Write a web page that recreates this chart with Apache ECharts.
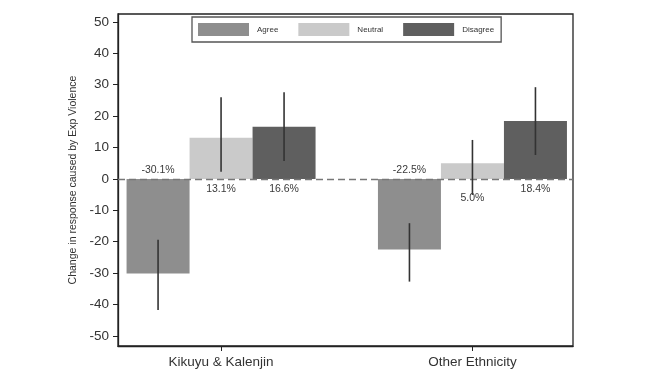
<!DOCTYPE html>
<html>
<head>
<meta charset="utf-8">
<script src="https://cdn.jsdelivr.net/npm/echarts@6/dist/echarts.min.js"></script>
<style>
html,body{margin:0;padding:0;background:#fff;}
#chart{width:645px;height:385px;}
</style>
</head>
<body>
<div id="chart"></div>
<script>
// ---- data ----
const categories = ['Kikuyu & Kalenjin', 'Other Ethnicity'];
const seriesNames = ['Agree', 'Neutral', 'Disagree'];
const agreeValues = [-30.1, -22.5];
const neutralValues = [13.1, 5.0];
const disagreeValues = [16.6, 18.4];
const agreeCI = [[-41.7, -19.4], [-32.7, -14.1]];
const neutralCI = [[2.3, 26.0], [-5.1, 12.4]];
const disagreeCI = [[5.7, 27.6], [7.6, 29.2]];
const yTickValues = [-50, -40, -30, -20, -10, 0, 10, 20, 30, 40, 50];
const categoryPositions = [0, 1];

// ---- styling ----
const colors = ['#8e8e8e', '#cacaca', '#5f5f5f'];
const BAR_W = 63;
const FONT = 'Liberation Sans, Arial, Helvetica, sans-serif';

const valuesList = [agreeValues, neutralValues, disagreeValues];
const ciList = [agreeCI, neutralCI, disagreeCI];

const chart = echarts.init(document.getElementById('chart'), null, {renderer: 'canvas'});

const barSeries = seriesNames.map((name, j) => ({
  name: name,
  type: 'bar',
  barWidth: BAR_W,
  barGap: '0%',
  itemStyle: {color: colors[j]},
  data: categoryPositions.map((x, i) => [x, valuesList[j][i]]),
  z: 2
}));

// error bars + value labels
const errData = [];
seriesNames.forEach((name, j) => {
  categoryPositions.forEach((x, i) => {
    errData.push([x, ciList[j][i][0], ciList[j][i][1], j, valuesList[j][i]]);
  });
});

const errSeries = {
  type: 'custom',
  name: 'err',
  clip: false,
  z: 5,
  data: errData,
  encode: {x: 0, y: [1, 2]},
  renderItem: function (params, api) {
    const x = api.value(0), lo = api.value(1), hi = api.value(2);
    const j = api.value(3), v = api.value(4);
    const dx = (j - 1) * BAR_W;
    const pLo = api.coord([x, lo]);
    const pHi = api.coord([x, hi]);
    const zeroY = api.coord([x, 0])[1];
    const cx = pLo[0] + dx;
    let ty;
    if (v >= 0) {
      ty = Math.max(zeroY + 10, pLo[1] + 3);
    } else {
      ty = Math.min(zeroY - 9, pHi[1] - 3);
    }
    return {
      type: 'group',
      children: [
        {
          type: 'line',
          shape: {x1: cx, y1: pLo[1], x2: cx, y2: pHi[1]},
          style: {stroke: '#333', lineWidth: 1.6}
        },
        {
          type: 'text',
          style: {
            text: v.toFixed(1) + '%',
            x: cx, y: ty,
            textAlign: 'center',
            textVerticalAlign: 'middle',
            font: '10.5px ' + FONT,
            fill: '#3a3a3a'
          }
        }
      ]
    };
  }
};

const zeroLineSeries = {
  type: 'line',
  name: 'zero',
  data: [],
  silent: true,
  markLine: {
    silent: true,
    symbol: 'none',
    label: {show: false},
    lineStyle: {color: '#777', type: [7, 4], width: 1.3},
    data: [{yAxis: 0}]
  },
  z: 4
};

chart.setOption({
  animation: false,
  backgroundColor: '#fff',
  grid: {
    left: 118, right: 72, top: 14, bottom: 39,
    show: true, borderColor: '#222', borderWidth: 1.3,
    containLabel: false
  },
  legend: {
    data: seriesNames,
    left: 192, top: 17,
    itemWidth: 51, itemHeight: 13, itemGap: 20,
    padding: [6, 7, 6, 6],
    borderColor: '#555', borderWidth: 1.3,
    backgroundColor: '#fff',
    icon: 'rect',
    textStyle: {fontSize: 8, color: '#333', fontFamily: FONT, padding: [0, 0, 0, 3]}
  },
  xAxis: {
    type: 'value',
    min: -0.41, max: 1.40,
    splitLine: {show: false},
    axisLine: {show: true, onZero: false, lineStyle: {color: '#222', width: 1.3}},
    axisTick: {show: true, length: 5, customValues: categoryPositions, lineStyle: {color: '#222'}},
    axisLabel: {
      customValues: categoryPositions,
      formatter: v => categories[Math.round(v)],
      fontSize: 13.5, color: '#333', fontFamily: FONT, margin: 9
    }
  },
  yAxis: {
    type: 'value',
    min: -53.2, max: 52.5,
    name: 'Change in response caused by Exp Violence',
    nameLocation: 'middle',
    nameGap: 27,
    nameTextStyle: {fontSize: 10.5, color: '#333', fontFamily: FONT},
    splitLine: {show: false},
    axisLine: {show: true, onZero: false, lineStyle: {color: '#222', width: 1.3}},
    axisTick: {show: true, length: 5, customValues: yTickValues, lineStyle: {color: '#222'}},
    axisLabel: {
      customValues: yTickValues,
      fontSize: 13.5, color: '#333', fontFamily: FONT, margin: 9
    }
  },
  series: [...barSeries, zeroLineSeries, errSeries]
});
</script>
</body>
</html>
